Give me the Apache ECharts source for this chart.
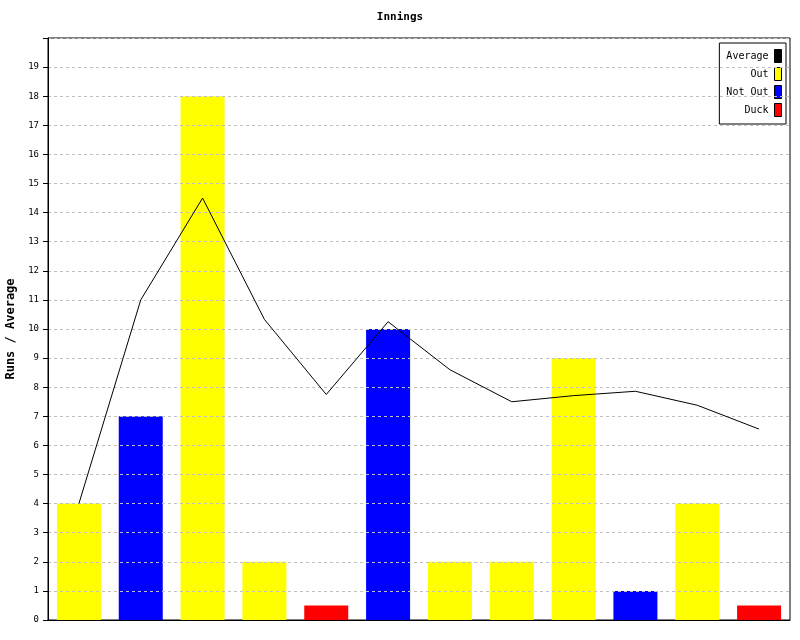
<!DOCTYPE html>
<html><head><meta charset="utf-8">
<script src="https://cdn.jsdelivr.net/npm/echarts@6/dist/echarts.min.js"></script>
<style>html,body{margin:0;padding:0;background:#fff}#c{width:800px;height:640px}</style>
</head><body><div id="c"></div>
<script>
const categories = ['1','2','3','4','5','6','7','8','9','10','11','12'];
const outRuns    = [4, null, 18, 2, null, null, 2, 2, 9, null, 4, null];
const notOutRuns = [null, 7, null, null, null, 10, null, null, null, 1, null, null];
const duckRuns   = [null, null, null, null, 0.5, null, null, null, null, null, null, 0.5];
const average    = [4, 11, 14.5, 10.33, 7.75, 10.25, 8.6, 7.5, 7.71, 7.86, 7.38, 6.56];
const yTicks     = [0,1,2,3,4,5,6,7,8,9,10,11,12,13,14,15,16,17,18,19];

const font = 'DejaVu Sans Mono';
const chart = echarts.init(document.getElementById('c'), null, {renderer:'canvas'});
const barBase = {type:'bar', stack:'r', barWidth:44, z:2};
chart.setOption({
  animation:false,
  backgroundColor:'#fff',
  title:{text:'Innings', left:'center', top:7, textStyle:{fontFamily:font, fontSize:11, fontWeight:'bold', color:'#000'}},
  grid:{left:48, right:10, top:38, bottom:20, show:true, borderColor:'#000', borderWidth:1, backgroundColor:'transparent', outerBoundsMode:'none', containLabel:false},
  legend:{
    orient:'vertical', right:14, top:43, align:'right',
    itemWidth:7, itemHeight:13, itemGap:4,
    backgroundColor:'#fff', borderColor:'#000', borderWidth:1, borderRadius:0,
    padding:[6,4,7,7],
    textStyle:{fontFamily:font, fontSize:10, color:'#000', padding:[0,1,0,0]},
    data:[
      {name:'Average', icon:'rect', itemStyle:{color:'#000', borderColor:'#000', borderWidth:1}},
      {name:'Out', icon:'rect', itemStyle:{color:'#ffff00', borderColor:'#000', borderWidth:1}},
      {name:'Not Out', icon:'rect', itemStyle:{color:'#0000ff', borderColor:'#000', borderWidth:1}},
      {name:'Duck', icon:'rect', itemStyle:{color:'#ff0000', borderColor:'#000', borderWidth:1}}
    ]
  },
  xAxis:{type:'category', data:categories, boundaryGap:true, z:7,
    axisLine:{lineStyle:{color:'#000', width:1}}, axisTick:{show:false}, axisLabel:{show:false}, splitLine:{show:false}},
  yAxis:{type:'value', min:0, max:20, interval:1, z:5,
    name:'Runs / Average', nameLocation:'middle', nameGap:26, nameRotate:90,
    nameTextStyle:{fontFamily:font, fontSize:12, fontWeight:'bold', color:'#000'},
    axisLine:{show:true, lineStyle:{color:'#000', width:1}},
    axisTick:{show:true, length:5, lineStyle:{color:'#000', width:1}},
    axisLabel:{fontFamily:font, fontSize:9, color:'#000', margin:9, customValues:yTicks},
    splitLine:{show:true, lineStyle:{color:'#c0c0c0', type:[3,3], width:1}}
  },
  series:[
    {name:'Out', data:outRuns, ...barBase, itemStyle:{color:'#ffff00'}},
    {name:'Not Out', data:notOutRuns, ...barBase, itemStyle:{color:'#0000ff'}},
    {name:'Duck', data:duckRuns, ...barBase, itemStyle:{color:'#ff0000'}},
    {name:'Average', type:'line', data:average, symbol:'none', z:6,
      lineStyle:{color:'#000', width:1}, itemStyle:{color:'#000'}}
  ]
});
</script></body></html>
